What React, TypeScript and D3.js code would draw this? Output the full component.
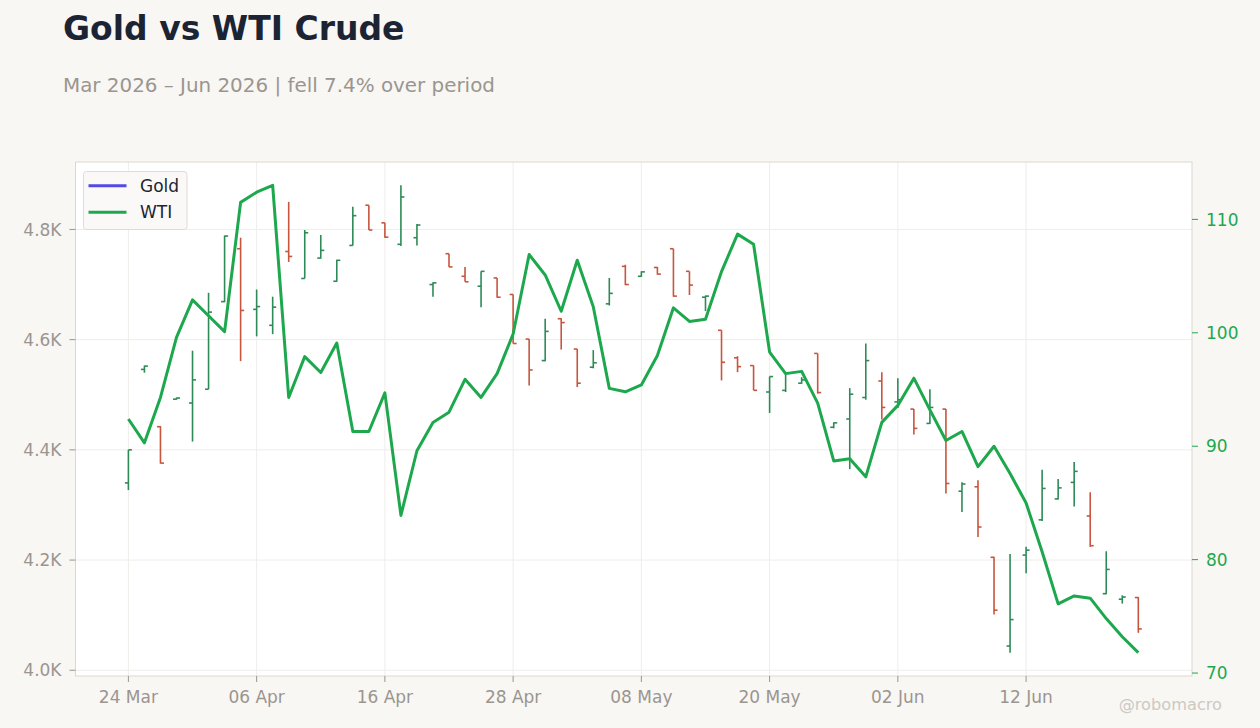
import React from "react";
import * as d3 from "d3";

// trading days (NYSE calendar, Good Friday / Memorial Day / Juneteenth skipped)
const dates = [
  "2026-03-24", "2026-03-25", "2026-03-26", "2026-03-27", "2026-03-30", "2026-03-31", "2026-04-01", "2026-04-02",
  "2026-04-06", "2026-04-07", "2026-04-08", "2026-04-09", "2026-04-10", "2026-04-13", "2026-04-14", "2026-04-15",
  "2026-04-16", "2026-04-17", "2026-04-20", "2026-04-21", "2026-04-22", "2026-04-23", "2026-04-24", "2026-04-27",
  "2026-04-28", "2026-04-29", "2026-04-30", "2026-05-01", "2026-05-04", "2026-05-05", "2026-05-06", "2026-05-07",
  "2026-05-08", "2026-05-11", "2026-05-12", "2026-05-13", "2026-05-14", "2026-05-15", "2026-05-18", "2026-05-19",
  "2026-05-20", "2026-05-21", "2026-05-22", "2026-05-26", "2026-05-27", "2026-05-28", "2026-05-29", "2026-06-01",
  "2026-06-02", "2026-06-03", "2026-06-04", "2026-06-05", "2026-06-08", "2026-06-09", "2026-06-10", "2026-06-11",
  "2026-06-12", "2026-06-15", "2026-06-16", "2026-06-17", "2026-06-18", "2026-06-22", "2026-06-23", "2026-06-24",
];

// Gold OHLC
const goldOpen = [
  4340, 4546, 4442, 4492, 4485, 4510, 4669, 4765, 4655, 4626, 4760, 4711, 4748, 4706, 4771, 4844,
  4812, 4773, 4785, 4700, 4756, 4715, 4697, 4712, 4682, 4601, 4562, 4638, 4583, 4550, 4665, 4733,
  4715, 4731, 4765, 4724, 4677, 4617, 4567, 4553, 4505, 4508, 4521, 4575, 4441, 4456, 4495, 4525,
  4487, 4474, 4448, 4474, 4325, 4333, 4205, 4044, 4209, 4273, 4311, 4341, 4280, 4139, 4129, 4132,
];
const goldHigh = [
  4400, 4553, 4443, 4495, 4580, 4685, 4789, 4785, 4691, 4678, 4850, 4799, 4790, 4745, 4841, 4844,
  4812, 4880, 4810, 4704, 4756, 4732, 4724, 4712, 4682, 4601, 4638, 4639, 4583, 4581, 4712, 4736,
  4724, 4732, 4765, 4724, 4680, 4617, 4570, 4553, 4533, 4539, 4532, 4575, 4450, 4512, 4593, 4541,
  4530, 4474, 4510, 4474, 4341, 4345, 4206, 4211, 4224, 4364, 4347, 4378, 4323, 4216, 4136, 4133,
];
const goldLow = [
  4327, 4540, 4375, 4491, 4415, 4510, 4668, 4561, 4606, 4610, 4741, 4711, 4747, 4705, 4771, 4799,
  4785, 4770, 4771, 4678, 4732, 4705, 4659, 4676, 4593, 4517, 4561, 4582, 4514, 4548, 4662, 4699,
  4714, 4718, 4678, 4681, 4652, 4526, 4541, 4508, 4467, 4505, 4520, 4502, 4439, 4365, 4491, 4455,
  4476, 4428, 4447, 4321, 4287, 4242, 4101, 4032, 4176, 4271, 4310, 4297, 4224, 4138, 4121, 4068,
];
const goldClose = [
  4400, 4552, 4376, 4494, 4527, 4650, 4788, 4653, 4660, 4659, 4751, 4794, 4762, 4744, 4825, 4799,
  4786, 4859, 4808, 4703, 4732, 4705, 4724, 4677, 4593, 4545, 4615, 4631, 4521, 4558, 4684, 4700,
  4723, 4719, 4679, 4699, 4679, 4559, 4551, 4508, 4533, 4539, 4527, 4504, 4449, 4501, 4562, 4477,
  4491, 4439, 4477, 4339, 4338, 4260, 4109, 4092, 4218, 4330, 4331, 4361, 4226, 4183, 4133, 4075,
];

// WTI close
const wti = [
  92.4, 90.3, 94.3, 99.6, 102.9, 101.5, 100.1, 111.5, 112.4, 113.0, 94.3, 97.9, 96.5, 99.1, 91.3, 91.3,
  94.7, 83.9, 89.6, 92.1, 93.0, 95.9, 94.3, 96.4, 99.9, 106.9, 105.1, 101.9, 106.4, 102.3, 95.1, 94.8,
  95.4, 98.0, 102.2, 101.0, 101.2, 105.4, 108.7, 107.8, 98.3, 96.4, 96.6, 93.8, 88.7, 88.9, 87.3, 92.1,
  93.6, 96.0, 93.2, 90.5, 91.3, 88.2, 90.0, 87.6, 85.0, 80.7, 76.1, 76.8, 76.6, 74.8, 73.2, 71.8,
];

const goldTicks = [4000, 4200, 4400, 4600, 4800];
const wtiTicks = [70, 80, 90, 100, 110];
const xTickIdx = [0, 8, 16, 24, 32, 40, 48, 56];

const W = 1260;
const H = 728;
const left = 75.5;
const right = 1192;
const top = 162;
const bottom = 676;

const FONT = "'DejaVu Sans', sans-serif";
const UP = "#2e8b57";
const DOWN = "#c8553d";
const WTI_C = "#1ea84e";
const GOLD_C = "#5448e6";
const MUTED = "#9b958f";

const pad = (ext: number[], f = 0.05) => {
  const r = ext[1] - ext[0];
  return [ext[0] - r * f, ext[1] + r * f];
};

export default function App() {
  const parse = d3.timeParse("%Y-%m-%d");
  const fmt = d3.timeFormat("%d %b");
  const n = dates.length;

  const x = d3.scaleLinear().domain([-3.3, n - 1 + 3.35]).range([left, right]);
  const yG = d3
    .scaleLinear()
    .domain(pad([d3.min(goldLow) as number, d3.max(goldHigh) as number]))
    .range([bottom, top]);
  const yW = d3
    .scaleLinear()
    .domain(pad(d3.extent(wti) as number[]))
    .range([bottom, top]);

  const line = d3
    .line<number>()
    .x((_, i) => x(i))
    .y((d) => yW(d));

  const tk = 3.5;

  return (
    <div style={{ position: "absolute", left: 0, top: 0 }}>
      <svg width={W} height={H} style={{ display: "block", fontFamily: FONT }}>
        <rect width={W} height={H} fill="#f8f7f4" />
        <text x={63} y={40} fontSize={33} fontWeight="bold" fill="#1c2434">
          Gold vs WTI Crude
        </text>
        <text x={63} y={92} fontSize={19.9} fill={MUTED}>
          Mar 2026 – Jun 2026 | fell 7.4% over period
        </text>

        <rect x={left} y={top} width={right - left} height={bottom - top} fill="#ffffff" />

        {/* grid */}
        {goldTicks.map((t) => (
          <line key={"gy" + t} x1={left} x2={right} y1={yG(t)} y2={yG(t)} stroke="#efedea" strokeWidth={1} />
        ))}
        {xTickIdx.map((i) => (
          <line key={"gx" + i} x1={x(i)} x2={x(i)} y1={top} y2={bottom} stroke="#efedea" strokeWidth={1} />
        ))}

        {/* gold OHLC */}
        {goldOpen.map((o, i) => {
          const c = goldClose[i];
          const col = c >= o ? UP : DOWN;
          const cx = x(i);
          return (
            <g key={"b" + i} stroke={col} strokeWidth={1.6}>
              <line x1={cx} x2={cx} y1={yG(goldHigh[i])} y2={yG(goldLow[i])} />
              <line x1={cx - tk} x2={cx} y1={yG(o)} y2={yG(o)} />
              <line x1={cx} x2={cx + tk} y1={yG(c)} y2={yG(c)} />
            </g>
          );
        })}

        {/* WTI */}
        <path d={line(wti) || ""} fill="none" stroke={WTI_C} strokeWidth={3} strokeLinejoin="round" />

        {/* frame */}
        <rect x={left} y={top} width={right - left} height={bottom - top} fill="none" stroke="#ddd7ce" strokeWidth={1} />

        {/* left axis */}
        {goldTicks.map((t) => (
          <g key={"ly" + t}>
            <line x1={left - 6} x2={left} y1={yG(t)} y2={yG(t)} stroke={MUTED} strokeWidth={1} />
            <text x={left - 14} y={yG(t)} dy="0.36em" textAnchor="end" fontSize={17} fill={MUTED}>
              {(t / 1000).toFixed(1) + "K"}
            </text>
          </g>
        ))}

        {/* right axis */}
        {wtiTicks.map((t) => (
          <g key={"ry" + t}>
            <line x1={right} x2={right + 6} y1={yW(t)} y2={yW(t)} stroke={WTI_C} strokeWidth={1} />
            <text x={right + 14} y={yW(t)} dy="0.36em" fontSize={17} fill={WTI_C}>
              {t}
            </text>
          </g>
        ))}

        {/* x axis */}
        {xTickIdx.map((i) => (
          <g key={"xt" + i}>
            <line x1={x(i)} x2={x(i)} y1={bottom} y2={bottom + 6} stroke={MUTED} strokeWidth={1} />
            <text x={x(i)} y={702.5} textAnchor="middle" fontSize={17} fill={MUTED}>
              {fmt(parse(dates[i]) as Date)}
            </text>
          </g>
        ))}

        {/* legend */}
        <rect x={83.5} y={171.5} width={103.5} height={58} rx={3} fill="#faf9f7" stroke="#e0dbd3" strokeWidth={1} />
        <line x1={88.5} x2={126.5} y1={185.7} y2={185.7} stroke={GOLD_C} strokeWidth={3} />
        <text x={140} y={185.7} dy="0.36em" fontSize={17} fill="#1c2434">Gold</text>
        <line x1={88.5} x2={126.5} y1={212.3} y2={212.3} stroke={WTI_C} strokeWidth={3} />
        <text x={140} y={212.3} dy="0.36em" fontSize={17} fill="#1c2434">WTI</text>

        <text x={1222} y={709.5} textAnchor="end" fontSize={16.2} fill="#cdc9c3">
          @robomacro
        </text>
      </svg>
    </div>
  );
}
